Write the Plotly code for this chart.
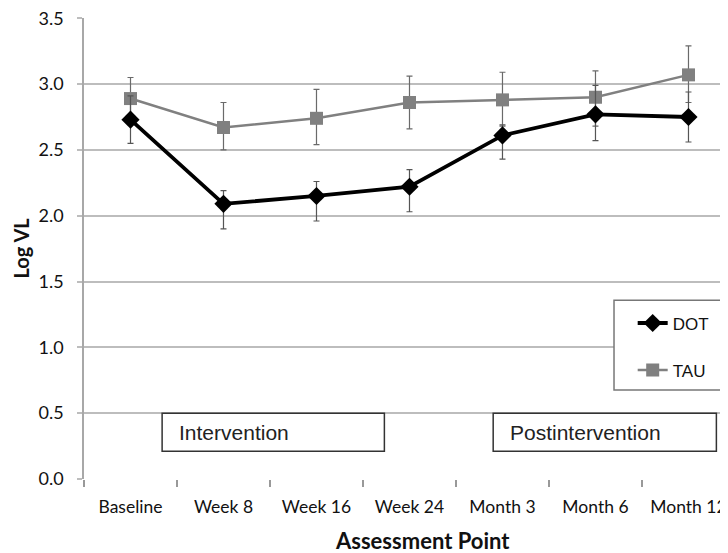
import plotly.graph_objects as go

categories = ["Baseline", "Week 8", "Week 16", "Week 24", "Month 3", "Month 6", "Month 12"]

dot_mean = [2.73, 2.09, 2.15, 2.22, 2.61, 2.77, 2.75]
dot_upper = [2.91, 2.19, 2.26, 2.35, 2.69, 2.99, 2.94]
dot_lower = [2.55, 1.90, 1.96, 2.03, 2.43, 2.57, 2.56]

tau_mean = [2.89, 2.67, 2.74, 2.86, 2.88, 2.90, 3.07]
tau_upper = [3.05, 2.86, 2.96, 3.06, 3.09, 3.10, 3.29]
tau_lower = [2.73, 2.50, 2.54, 2.66, 2.68, 2.68, 2.86]

y_ticks = [0.0, 0.5, 1.0, 1.5, 2.0, 2.5, 3.0, 3.5]
y_tick_labels = ["0.0", "0.5", "1.0", "1.5", "2.0", "2.5", "3.0", "3.5"]

phase_labels = ["Intervention", "Postintervention"]
phase_x0 = [0.34, 3.90]
phase_x1 = [2.73, 6.30]

fig = go.Figure()

fig.add_trace(go.Scatter(
    x=categories, y=tau_mean, name="TAU", mode="lines+markers",
    legendgroup="b", legendrank=2,
    line=dict(color="#808080", width=2.5),
    marker=dict(symbol="square", size=13, color="#808080"),
    error_y=dict(type="data", symmetric=False,
                 array=[u - m for u, m in zip(tau_upper, tau_mean)],
                 arrayminus=[m - l for m, l in zip(tau_mean, tau_lower)],
                 color="#6a6a6a", thickness=1.2, width=3),
))
fig.add_trace(go.Scatter(
    x=categories, y=dot_mean, name="DOT", mode="lines+markers",
    legendgroup="a", legendrank=1,
    line=dict(color="#000000", width=3.8),
    marker=dict(symbol="diamond", size=14, color="#000000"),
    error_y=dict(type="data", symmetric=False,
                 array=[u - m for u, m in zip(dot_upper, dot_mean)],
                 arrayminus=[m - l for m, l in zip(dot_mean, dot_lower)],
                 color="#555555", thickness=1.2, width=3),
))

for lab, a, b in zip(phase_labels, phase_x0, phase_x1):
    fig.add_shape(type="rect", xref="x", yref="y", x0=a, x1=b, y0=0.21, y1=0.5,
                  line=dict(color="#333333", width=1.5), fillcolor="white", layer="above")
    fig.add_annotation(x=a + 0.16, y=0.355, xref="x", yref="y", text=lab, showarrow=False,
                       xanchor="left", yanchor="middle",
                       font=dict(family="Liberation Sans, Arial", size=21, color="#222222"))

# legend frame
fig.add_shape(type="rect", xref="paper", yref="paper", x0=0.823, x1=0.997, y0=0.193, y1=0.388,
              line=dict(color="#777777", width=1.5), fillcolor="white", layer="above")

# axis titles
fig.add_annotation(x=0, y=0.5, xref="paper", yref="paper", xanchor="center", yanchor="middle",
                   xshift=-64, text="<b>Log VL</b>", textangle=-90, showarrow=False,
                   font=dict(family="Lato, sans-serif", size=20, color="#111111"))
fig.add_annotation(x=0.5, y=0, xref="paper", yref="paper", xanchor="center", yanchor="middle",
                   yshift=-61, xshift=16, text="<b>Assessment Point</b>", showarrow=False,
                   font=dict(family="Lato, sans-serif", size=22, color="#111111"))

fig.update_layout(
    width=720, height=545,
    margin=dict(l=76, r=0, t=10, b=74),
    paper_bgcolor="white", plot_bgcolor="white",
    font=dict(family="Lato, sans-serif", size=17.5, color="#111111"),
    showlegend=True,
    legend=dict(x=0.852, y=0.3765, xanchor="left", yanchor="top",
                borderwidth=0, bgcolor="rgba(0,0,0,0)",
                traceorder="grouped", tracegroupgap=22,
                font=dict(family="Liberation Sans, Arial", size=17, color="#111111"),
                itemwidth=30),
    xaxis=dict(
        type="category", range=[-0.5, 6.425], showgrid=False, zeroline=False,
        showline=False, ticks="outside", tickson="boundaries",
        ticklen=7, tickcolor="#999999", tickwidth=1.5,
        ticklabelstandoff=15, automargin=False, ticklabeloverflow="allow",
    ),
    yaxis=dict(
        range=[0, 3.502], tickvals=y_ticks, ticktext=y_tick_labels,
        tickfont=dict(size=18),
        showgrid=True, gridcolor="#bdbdbd", gridwidth=1.5,
        zeroline=False, showline=True, linecolor="#a8a8a8", linewidth=1.5,
        ticks="outside", ticklen=5, tickcolor="#bdbdbd", tickwidth=1.5,
        ticklabelstandoff=10, automargin=False, ticklabeloverflow="allow",
    ),
)

fig.write_html("out.html")
